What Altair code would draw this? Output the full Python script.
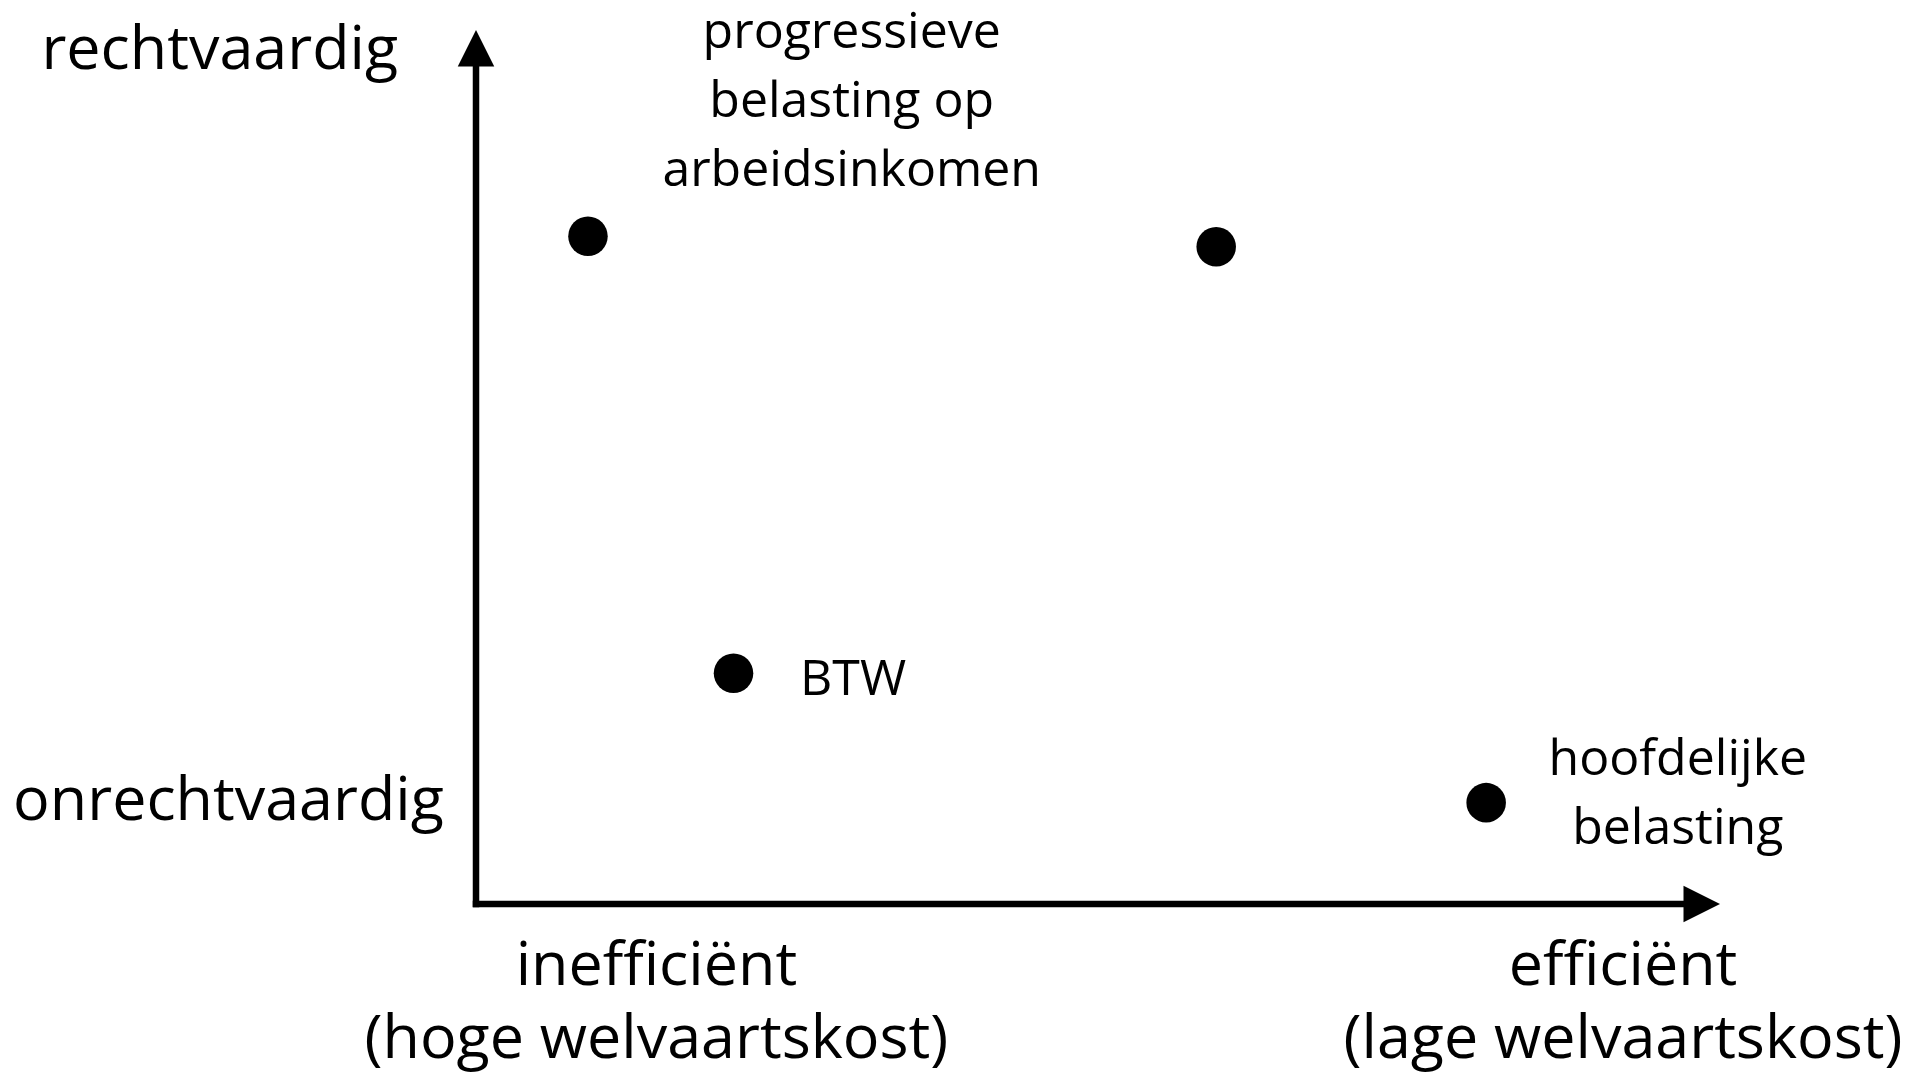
import altair as alt
import pandas as pd

# Points: efficiency (x) vs fairness (y), in arbitrary 0-100 units
pt_x = [9.0, 59.5, 20.7, 81.2]
pt_y = [76.4, 75.2, 26.4, 11.6]

# Annotation labels (small)
note_text = ["progressieve\nbelasting op\narbeidsinkomen", "hoofdelijke\nbelasting"]
note_x = [30.2, 96.6]
note_y = [99.7, 16.5]

btw_text = ["BTW"]
btw_x = [26.05]
btw_y = [25.65]

# Axis pole labels (large)
pole_text = ["rechtvaardig", "onrechtvaardig",
             "inefficiënt\n(hoge welvaartskost)", "efficiënt\n(lage welvaartskost)"]
pole_x = [-20.6, -19.9, 14.5, 92.2]
pole_y = [97.55, 11.65, -7.2, -7.2]

# Axis arrows
axis_x = [0, 0]
axis_y = [0, 0]
axis_x2 = [0, 97]
axis_y2 = [96, 0]
tip_x = [0]
tip_y = [100]
tipx_x = [100]
tipx_y = [0]

XD = [-37.62, 115.11]
YD = [-19.22, 102.52]
FONT = "Open Sans"

xs = alt.Scale(domain=XD, nice=False, zero=False)
ys = alt.Scale(domain=YD, nice=False, zero=False)

pts = pd.DataFrame({"x": pt_x, "y": pt_y})
notes = pd.DataFrame({"t": note_text, "x": note_x, "y": note_y})
btw = pd.DataFrame({"t": btw_text, "x": btw_x, "y": btw_y})
poles = pd.DataFrame({"t": pole_text, "x": pole_x, "y": pole_y})
axes = pd.DataFrame({"x": axis_x, "y": axis_y, "x2": axis_x2, "y2": axis_y2})
tipy = pd.DataFrame({"x": tip_x, "y": tip_y})
tipx = pd.DataFrame({"x": tipx_x, "y": tipx_y})

X = lambda: alt.X("x:Q", scale=xs, axis=None)
Y = lambda: alt.Y("y:Q", scale=ys, axis=None)

rules = alt.Chart(axes).mark_rule(color="black", strokeWidth=6.5, strokeCap="square").encode(
    x=X(), y=Y(), x2="x2:Q", y2="y2:Q")

head_up = alt.Chart(tipy).mark_point(
    shape="M0,0L-1,2L1,2Z", filled=True, color="black", opacity=1, size=1332, strokeWidth=0
).encode(x=X(), y=Y())
head_right = alt.Chart(tipx).mark_point(
    shape="M0,0L-2,-1L-2,1Z", filled=True, color="black", opacity=1, size=1332, strokeWidth=0
).encode(x=X(), y=Y())

dots = alt.Chart(pts).mark_circle(color="black", opacity=1, size=1562).encode(x=X(), y=Y())

note_marks = alt.Chart(notes).mark_text(
    font=FONT, fontSize=50, lineBreak="\n", lineHeight=69, align="center", baseline="middle", color="black"
).encode(x=X(), y=Y(), text="t:N")

btw_marks = alt.Chart(btw).mark_text(
    font=FONT, fontSize=50, align="left", baseline="middle", color="black"
).encode(x=X(), y=Y(), text="t:N")

pole_marks = alt.Chart(poles).mark_text(
    font=FONT, fontSize=61, lineBreak="\n", lineHeight=73, align="center", baseline="middle", color="black"
).encode(x=X(), y=Y(), text="t:N")

chart = alt.layer(rules, head_up, head_right, dots, note_marks, btw_marks, pole_marks).properties(
    width=1900, height=1064, padding=0, background="white",
    autosize=alt.AutoSizeParams(type="none")
).configure_view(stroke=None)

chart.save("out.html", embed_options={"renderer": "svg", "actions": False})
